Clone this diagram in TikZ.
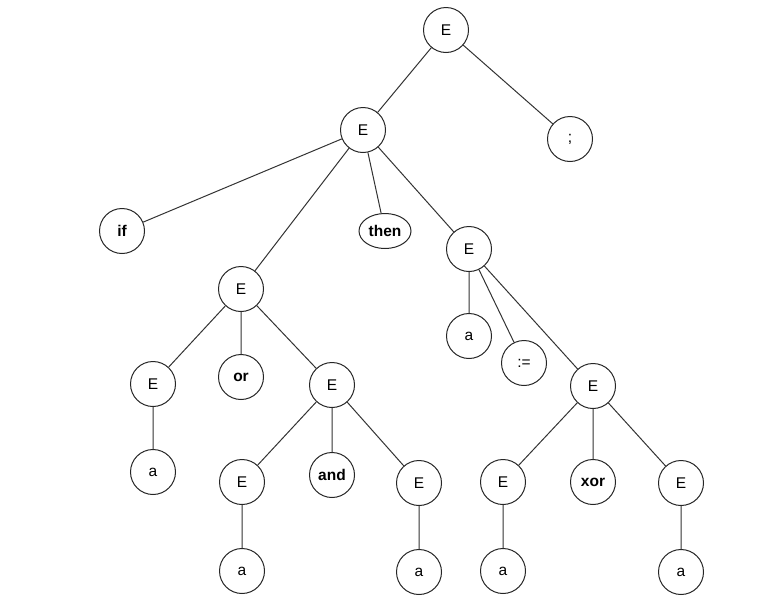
\documentclass[tikz,border=0pt]{standalone}
\usepackage{fontspec}
\setmainfont{Liberation Sans}
\usetikzlibrary{shapes.geometric}
\begin{document}
\begin{tikzpicture}[x=1pt,y=-1pt,
  nd/.style={circle,draw=black!85,line width=1pt,minimum size=45pt,inner sep=0pt,font=\fontsize{15.5}{15.5}\selectfont},
  kw/.style={nd,font=\fontsize{15.5}{15.5}\selectfont\bfseries},
  ell/.style={ellipse,draw=black!85,line width=1pt,minimum width=52pt,minimum height=35pt,inner sep=0pt,font=\fontsize{15.5}{15.5}\selectfont\bfseries},
  edge/.style={draw=black!80,line width=1pt}]
\useasboundingbox (0,0) rectangle (776,603);
\node[nd] (r) at (446,30) {E};
\node[nd] (e2) at (363,130) {E};
\node[nd] (semi) at (570,139) {;};
\node[kw] (if) at (122,231) {if};
\node[ell] (then) at (385,231) {then};
\node[nd] (er) at (469,249) {E};
\node[nd] (el) at (241,289) {E};
\node[nd] (ar) at (469,336) {a};
\node[nd] (asg) at (524,363) {:=};
\node[nd] (e3) at (153,384) {E};
\node[kw] (or) at (241,377) {or};
\node[nd] (e4) at (332,385) {E};
\node[nd] (ex) at (593,386) {E};
\node[nd] (a1) at (153,472) {a};
\node[nd] (e5) at (242,482) {E};
\node[kw] (and) at (332,475) {and};
\node[nd] (e6) at (419,483) {E};
\node[nd] (e7) at (503,482) {E};
\node[kw] (xor) at (593,482) {xor};
\node[nd] (e8) at (681,483) {E};
\node[nd] (a2) at (242,571) {a};
\node[nd] (a3) at (419,572) {a};
\node[nd] (a4) at (503,571) {a};
\node[nd] (a5) at (681,572) {a};
\path[edge] (r) -- (e2) (r) -- (semi)
  (e2) -- (if) (e2) -- (el) (e2) -- (then) (e2) -- (er)
  (el) -- (e3) (el) -- (or) (el) -- (e4)
  (e3) -- (a1)
  (e4) -- (e5) (e4) -- (and) (e4) -- (e6)
  (e5) -- (a2) (e6) -- (a3)
  (er) -- (ar) (er) -- (asg) (er) -- (ex)
  (ex) -- (e7) (ex) -- (xor) (ex) -- (e8)
  (e7) -- (a4) (e8) -- (a5);
\end{tikzpicture}
\end{document}
